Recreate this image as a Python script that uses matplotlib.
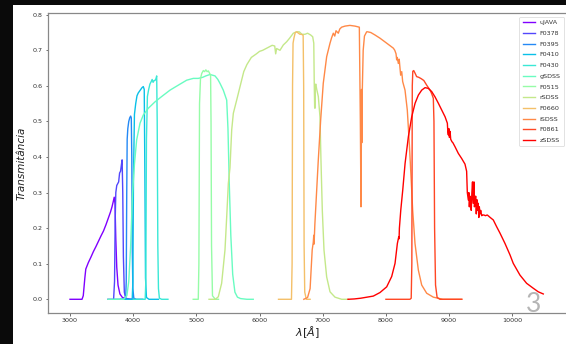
import numpy as np
import matplotlib
matplotlib.use("Agg")
import matplotlib.pyplot as plt
from matplotlib.patches import Rectangle

# ---------------- data (wavelength in Angstrom, transmission) ----------------
filter_names = ["uJAVA", "F0378", "F0395", "F0410", "F0430", "gSDSS",
                "F0515", "rSDSS", "F0660", "iSDSS", "F0861", "zSDSS"]

ujava_wl = [3000, 3190, 3210, 3235, 3250, 3290, 3330, 3370, 3410, 3450, 3490, 3530,
            3570, 3610, 3640, 3665, 3685, 3700, 3712, 3725, 3740, 3760, 3790, 3830,
            3880, 3950, 4000]
ujava_t = [0, 0, 0.01, 0.06, 0.085, 0.103, 0.118, 0.134, 0.148, 0.163, 0.178, 0.192,
           0.21, 0.23, 0.245, 0.26, 0.275, 0.287, 0.27, 0.17, 0.09, 0.04, 0.015, 0.005,
           0.002, 0, 0]

f0378_wl = [3600, 3690, 3705, 3715, 3725, 3740, 3755, 3770, 3785, 3800, 3815, 3825,
            3835, 3845, 3860, 3880, 3950, 4000]
f0378_t = [0, 0, 0.05, 0.22, 0.3, 0.32, 0.325, 0.33, 0.355, 0.36, 0.38, 0.392,
           0.3, 0.12, 0.02, 0.003, 0, 0]

f0395_wl = [3700, 3880, 3890, 3898, 3905, 3915, 3930, 3945, 3960, 3970, 3978, 3985,
            3995, 4010, 4050, 4150]
f0395_t = [0, 0, 0.05, 0.3, 0.45, 0.48, 0.5, 0.51, 0.515, 0.51, 0.4, 0.15,
           0.03, 0.003, 0, 0]

f0410_wl = [3800, 3985, 3995, 4005, 4020, 4040, 4060, 4080, 4100, 4120, 4140, 4160,
            4175, 4185, 4195, 4210, 4250, 4400]
f0410_t = [0, 0, 0.05, 0.35, 0.52, 0.55, 0.572, 0.58, 0.585, 0.59, 0.595, 0.598,
           0.59, 0.35, 0.06, 0.005, 0, 0]

f0430_wl = [4000, 4190, 4200, 4210, 4225, 4245, 4265, 4285, 4300, 4315, 4330, 4345,
            4360, 4372, 4380, 4390, 4400, 4415, 4450, 4550]
f0430_t = [0, 0, 0.05, 0.45, 0.57, 0.59, 0.605, 0.612, 0.618, 0.61, 0.615, 0.615,
           0.62, 0.628, 0.5, 0.15, 0.03, 0.003, 0, 0]

gsdss_wl = [3600, 3850, 3900, 3930, 3960, 3990, 4020, 4055, 4108, 4160, 4239, 4345,
            4451, 4583, 4714, 4847, 4951, 5030, 5100, 5150, 5216, 5295, 5340, 5374,
            5426, 5453, 5480, 5500, 5520, 5545, 5575, 5610, 5650, 5700, 5800, 5900]
gsdss_t = [0, 0, 0.01, 0.05, 0.15, 0.3, 0.38, 0.448, 0.495, 0.518, 0.537, 0.555,
           0.57, 0.588, 0.602, 0.616, 0.621, 0.621, 0.624, 0.628, 0.632, 0.628, 0.618, 0.607,
           0.588, 0.574, 0.56, 0.48, 0.33, 0.18, 0.07, 0.02, 0.006, 0.002, 0, 0]

f0515_wl = [4950, 5030, 5040, 5050, 5065, 5085, 5110, 5130, 5150, 5170, 5190, 5210,
            5225, 5232, 5240, 5255, 5300, 5350]
f0515_t = [0, 0, 0.1, 0.55, 0.62, 0.635, 0.643, 0.64, 0.645, 0.64, 0.642, 0.635,
           0.63, 0.5, 0.15, 0.01, 0, 0]

rsdss_wl = [5200, 5300, 5347, 5400, 5453, 5480, 5506, 5532, 5559, 5585, 5638, 5691,
            5750, 5800, 5870, 5950, 6000, 6050, 6114, 6200, 6240, 6255, 6270, 6323,
            6376, 6429, 6480, 6534, 6588, 6629, 6670, 6719, 6760, 6809, 6841, 6858,
            6866, 6872, 6877, 6882, 6890, 6905, 6930, 6956, 6972, 6993, 7020, 7062,
            7115, 7194, 7300, 7400]
rsdss_t = [0, 0, 0.007, 0.045, 0.139, 0.232, 0.326, 0.37, 0.476, 0.523, 0.56, 0.598,
           0.64, 0.66, 0.68, 0.69, 0.697, 0.70, 0.706, 0.714, 0.712, 0.69, 0.705, 0.70,
           0.715, 0.724, 0.735, 0.748, 0.752, 0.752, 0.745, 0.745, 0.748, 0.743, 0.738, 0.72,
           0.6, 0.54, 0.537, 0.6, 0.605, 0.59, 0.57, 0.513, 0.39, 0.25, 0.138, 0.063,
           0.021, 0.006, 0, 0]

f0660_wl = [6300, 6505, 6515, 6522, 6530, 6545, 6565, 6590, 6615, 6640, 6665, 6690,
            6698, 6705, 6715, 6740, 6800]
f0660_t = [0, 0, 0.1, 0.6, 0.72, 0.735, 0.75, 0.752, 0.748, 0.745, 0.745, 0.742,
           0.6, 0.15, 0.02, 0, 0]

isdss_wl = [6700, 6760, 6800, 6833, 6850, 6858, 6861, 6866, 6875, 6887, 6929, 6967,
            7008, 7062, 7115, 7140, 7167, 7190, 7210, 7246, 7270, 7299, 7352, 7430,
            7510, 7579, 7595, 7605, 7610, 7614, 7618, 7625, 7640, 7660, 7695, 7710,
            7760, 7827, 7906, 8012, 8117, 8140, 8160, 8170, 8180, 8196, 8210, 8220,
            8233, 8250, 8265, 8302, 8338, 8370, 8397, 8423, 8460, 8513, 8566, 8645,
            8750, 8900, 9200]
isdss_t = [0, 0.005, 0.03, 0.139, 0.16, 0.18, 0.155, 0.17, 0.21, 0.25, 0.39, 0.504,
           0.607, 0.682, 0.72, 0.735, 0.748, 0.74, 0.755, 0.748, 0.76, 0.765, 0.768, 0.77,
           0.768, 0.765, 0.5, 0.26, 0.40, 0.59, 0.44, 0.58, 0.7, 0.74, 0.752, 0.752,
           0.75, 0.743, 0.734, 0.72, 0.706, 0.7, 0.69, 0.673, 0.68, 0.663, 0.675, 0.655,
           0.63, 0.64, 0.612, 0.588, 0.532, 0.438, 0.345, 0.251, 0.157, 0.082, 0.04, 0.017,
           0.006, 0, 0]

f0861_wl = [8000, 8380, 8400, 8410, 8417, 8425, 8440, 8460, 8486, 8520, 8560, 8600,
            8645, 8698, 8724, 8750, 8760, 8770, 8785, 8810, 8855, 9000, 9200]
f0861_t = [0, 0, 0.003, 0.1, 0.6, 0.641, 0.643, 0.636, 0.626, 0.624, 0.62, 0.615,
           0.602, 0.588, 0.578, 0.565, 0.5, 0.2, 0.04, 0.005, 0, 0, 0]

zsdss_wl = [7400, 7500, 7600, 7700, 7800, 7906, 8012, 8091, 8144, 8181, 8203, 8208,
            8213, 8235, 8266, 8303, 8355, 8408, 8461, 8513, 8566, 8619, 8670, 8724,
            8777, 8830, 8883, 8936, 8972, 8980, 8988, 8995, 9005, 9015, 9025, 9045,
            9060, 9093, 9146, 9198, 9251, 9277, 9288, 9304, 9312, 9320, 9330, 9340,
            9350, 9360, 9370, 9380, 9393, 9400, 9410, 9420, 9430, 9440, 9450, 9460,
            9470, 9478, 9490, 9500, 9515, 9530, 9550, 9575, 9604, 9650, 9699, 9752,
            9805, 9884, 9963, 10015, 10121, 10226, 10332, 10411, 10490]
zsdss_t = [0, 0.001, 0.003, 0.006, 0.009, 0.019, 0.035, 0.064, 0.101, 0.157, 0.176, 0.17,
           0.2, 0.251, 0.307, 0.382, 0.457, 0.513, 0.551, 0.574, 0.588, 0.595, 0.593, 0.584,
           0.569, 0.551, 0.532, 0.513, 0.495, 0.47, 0.462, 0.48, 0.455, 0.472, 0.45, 0.443,
           0.44, 0.429, 0.41, 0.396, 0.38, 0.36, 0.3, 0.279, 0.3, 0.26, 0.29, 0.28,
           0.25, 0.30, 0.33, 0.27, 0.33, 0.26, 0.27, 0.29, 0.24, 0.28, 0.25, 0.27,
           0.23, 0.26, 0.24, 0.25, 0.235, 0.237, 0.237, 0.235, 0.237, 0.23, 0.223, 0.204,
           0.186, 0.157, 0.125, 0.101, 0.068, 0.045, 0.031, 0.021, 0.015]

curves = [(ujava_wl, ujava_t), (f0378_wl, f0378_t), (f0395_wl, f0395_t),
          (f0410_wl, f0410_t), (f0430_wl, f0430_t), (gsdss_wl, gsdss_t),
          (f0515_wl, f0515_t), (rsdss_wl, rsdss_t), (f0660_wl, f0660_t),
          (isdss_wl, isdss_t), (f0861_wl, f0861_t), (zsdss_wl, zsdss_t)]

x_ticks = [3000, 4000, 5000, 6000, 7000, 8000, 9000, 10000]
y_ticks = [0.0, 0.1, 0.2, 0.3, 0.4, 0.5, 0.6, 0.7, 0.8]

# ---------------- figure ----------------
W, H = 566, 344
fig = plt.figure(figsize=(W / 100, H / 100), dpi=100, facecolor="#0a0a0a")
fig.patches.append(Rectangle((12.7 / W, 0), 1.0, (H - 5) / H,
                             transform=fig.transFigure, facecolor="white",
                             edgecolor="none", zorder=-5))

left_px, right_px, top_px, bot_px = 47.5, 567.6, 13.3, 312.7
ax = fig.add_axes([left_px / W, 1 - bot_px / H, (right_px - left_px) / W,
                   (bot_px - top_px) / H])
ax.set_zorder(1)
ax.set_facecolor("white")

colors = plt.cm.rainbow(np.linspace(0, 1, len(filter_names)))
for (wl, t), name, c in zip(curves, filter_names, colors):
    ax.plot(wl, t, color=c, lw=1.0, label=name)

ax.set_xlim(2644, 10875)
ax.set_ylim(-0.0377, 0.804)
ax.set_xticks(x_ticks)
ax.set_yticks(y_ticks)
ax.set_xticklabels([str(v) for v in x_ticks])
ax.set_yticklabels([f"{v:.1f}" for v in y_ticks])
ax.tick_params(labelsize=4.6, length=1.8, width=0.6, pad=1.8,
               colors="#555555", labelcolor="#333333")
for s in ax.spines.values():
    s.set_color("#888888")
    s.set_linewidth(0.9)

ax.set_xlabel(r"$\lambda [\AA]$", fontsize=8, labelpad=1.0, color="#222222")
ax.set_ylabel("Transmitância", fontsize=7.5, style="italic", labelpad=4,
              color="#222222")

leg = ax.legend(loc="upper right", bbox_to_anchor=(564 / W, 1 - 16.7 / H),
                bbox_transform=fig.transFigure, borderaxespad=0,
                fontsize=4.6, handlelength=1.95, handletextpad=0.75,
                labelspacing=0.82, borderpad=0.5, frameon=True, fancybox=True)
leg.get_frame().set_linewidth(0.5)
leg.get_frame().set_edgecolor("#cccccc")
for txt in leg.get_texts():
    txt.set_color("#333333")

fig.text(534 / W, 1 - 304 / H, "3", ha="center", va="center", fontsize=19,
         color="#b5b5b5", family="Lato", fontweight="normal", zorder=10)

fig.savefig("out.png", dpi=100, facecolor=fig.get_facecolor())
